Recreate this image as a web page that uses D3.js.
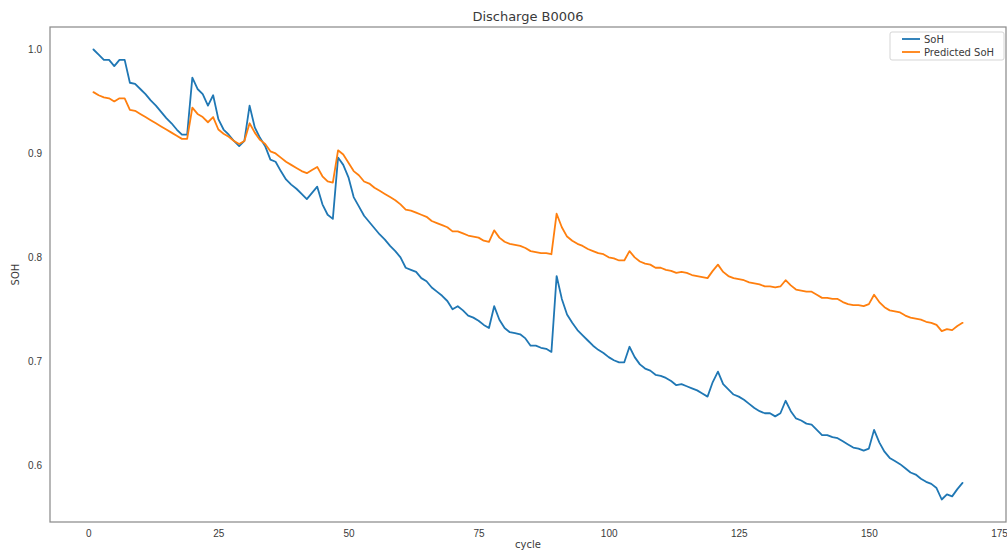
<!DOCTYPE html>
<html>
<head>
<meta charset="utf-8">
<script src="https://cdn.jsdelivr.net/npm/d3@7/dist/d3.min.js"></script>
<style>
  html, body { margin: 0; padding: 0; background: #fff; }
  svg { display: block; font-family: "DejaVu Sans", sans-serif; }
</style>
</head>
<body>
<svg id="chart" width="1007" height="550"></svg>
<script>
const title = "Discharge B0006";
const xLabel = "cycle";
const yLabel = "SOH";
const seriesNames = ["SoH", "Predicted SoH"];
const seriesColors = ["#1f77b4", "#ff7f0e"];
const xTicks = [0, 25, 50, 75, 100, 125, 150, 175];
const yTicks = [0.6, 0.7, 0.8, 0.9, 1.0];

const soh = [
  1.000, 0.995, 0.990, 0.990, 0.984, 0.990, 0.990, 0.968, 0.967, 0.962,
  0.957, 0.951, 0.946, 0.940, 0.934, 0.929, 0.923, 0.918, 0.918, 0.973,
  0.962, 0.957, 0.946, 0.956, 0.933, 0.923, 0.918, 0.912, 0.907, 0.912,
  0.946, 0.925, 0.915, 0.907, 0.894, 0.892, 0.883, 0.875, 0.870, 0.866,
  0.861, 0.856, 0.862, 0.868, 0.851, 0.841, 0.837, 0.896, 0.889, 0.877,
  0.858, 0.849, 0.840, 0.834, 0.828, 0.822, 0.817, 0.811, 0.806, 0.800,
  0.790, 0.788, 0.786, 0.780, 0.777, 0.771, 0.767, 0.763, 0.758, 0.750,
  0.753, 0.749, 0.744, 0.742, 0.739, 0.735, 0.732, 0.753, 0.740, 0.732,
  0.728, 0.727, 0.726, 0.722, 0.715, 0.715, 0.713, 0.712, 0.709, 0.782,
  0.760, 0.745, 0.737, 0.730, 0.725, 0.720, 0.715, 0.711, 0.708, 0.704,
  0.701, 0.699, 0.699, 0.714, 0.704, 0.697, 0.693, 0.691, 0.687, 0.686,
  0.684, 0.681, 0.677, 0.678, 0.676, 0.674, 0.672, 0.669, 0.666, 0.680,
  0.690, 0.678, 0.673, 0.668, 0.666, 0.663, 0.659, 0.655, 0.652, 0.650,
  0.650, 0.647, 0.650, 0.662, 0.652, 0.645, 0.643, 0.640, 0.639, 0.634,
  0.629, 0.629, 0.627, 0.626, 0.623, 0.620, 0.617, 0.616, 0.614, 0.616,
  0.634, 0.622, 0.613, 0.607, 0.604, 0.601, 0.597, 0.593, 0.591, 0.587,
  0.584, 0.582, 0.578, 0.567, 0.572, 0.570, 0.577, 0.583
];

const predictedSoh = [
  0.959, 0.956, 0.954, 0.953, 0.950, 0.953, 0.953, 0.942, 0.941, 0.938,
  0.935, 0.932, 0.929, 0.926, 0.923, 0.920, 0.917, 0.914, 0.914, 0.944,
  0.938, 0.935, 0.930, 0.935, 0.923, 0.919, 0.916, 0.912, 0.909, 0.912,
  0.929, 0.920, 0.913, 0.909, 0.902, 0.900, 0.896, 0.892, 0.889, 0.886,
  0.883, 0.881, 0.884, 0.887, 0.878, 0.873, 0.872, 0.903, 0.899, 0.891,
  0.883, 0.879, 0.873, 0.871, 0.867, 0.864, 0.861, 0.858, 0.855, 0.851,
  0.846, 0.845, 0.843, 0.841, 0.839, 0.835, 0.833, 0.831, 0.829, 0.825,
  0.825, 0.823, 0.821, 0.820, 0.819, 0.816, 0.815, 0.826, 0.819, 0.815,
  0.813, 0.812, 0.811, 0.809, 0.806, 0.805, 0.804, 0.804, 0.803, 0.842,
  0.829, 0.820, 0.816, 0.813, 0.811, 0.808, 0.806, 0.804, 0.803, 0.800,
  0.799, 0.797, 0.797, 0.806, 0.800, 0.796, 0.794, 0.793, 0.790, 0.790,
  0.788, 0.787, 0.785, 0.786, 0.785, 0.783, 0.782, 0.781, 0.780, 0.787,
  0.793, 0.786, 0.782, 0.780, 0.779, 0.778, 0.776, 0.775, 0.774, 0.772,
  0.772, 0.771, 0.772, 0.778, 0.773, 0.769, 0.768, 0.767, 0.767, 0.764,
  0.761, 0.761, 0.760, 0.760, 0.757, 0.755, 0.754, 0.754, 0.753, 0.755,
  0.764, 0.757, 0.752, 0.749, 0.748, 0.747, 0.744, 0.742, 0.741, 0.740,
  0.738, 0.737, 0.735, 0.729, 0.731, 0.730, 0.734, 0.737
];

const cycles = d3.range(1, soh.length + 1);

const svg = d3.select("#chart");
const W = 1007, H = 550;
const m = { left: 50, right: 1, top: 27, bottom: 28 };
const x0 = m.left, x1 = W - m.right, y0 = m.top, y1 = H - m.bottom;

// matplotlib-style 5% margins
const xmin = d3.min(cycles), xmax = d3.max(cycles);
const xpad = (xmax - xmin) * 0.05;
const allY = soh.concat(predictedSoh);
const ymin = d3.min(allY), ymax = d3.max(allY);
const ypad = (ymax - ymin) * 0.05;

const x = d3.scaleLinear().domain([xmin - xpad, xmax + xpad]).range([x0, x1]);
const y = d3.scaleLinear().domain([ymin - ypad, ymax + ypad]).range([y1, y0]);

const textColor = "#3a3a3a";

// axes (no tick marks)
const xAxis = d3.axisBottom(x).tickValues(xTicks).tickSize(0).tickPadding(8).tickFormat(d3.format("d"));
const yAxis = d3.axisLeft(y).tickValues(yTicks).tickSize(0).tickPadding(8).tickFormat(d3.format(".1f"));

const gx = svg.append("g").attr("transform", `translate(0,${y1})`).call(xAxis);
const gy = svg.append("g").attr("transform", `translate(${x0},0)`).call(yAxis);
[gx, gy].forEach(g => {
  g.select(".domain").remove();
  g.selectAll("text").attr("fill", textColor).style("font-size", "10px");
});

// lines
const line = d3.line().x((d, i) => x(cycles[i])).y(d => y(d));
svg.append("clipPath").attr("id", "clip")
  .append("rect").attr("x", x0).attr("y", y0).attr("width", x1 - x0).attr("height", y1 - y0);

[soh, predictedSoh].forEach((s, k) => {
  svg.append("path")
    .datum(s)
    .attr("clip-path", "url(#clip)")
    .attr("fill", "none")
    .attr("stroke", seriesColors[k])
    .attr("stroke-width", 1.8)
    .attr("stroke-linejoin", "round")
    .attr("stroke-linecap", "round")
    .attr("d", line);
});

// frame
svg.append("rect")
  .attr("x", x0).attr("y", y0).attr("width", x1 - x0).attr("height", y1 - y0)
  .attr("fill", "none").attr("stroke", "#8c8c8c").attr("stroke-width", 1.25);

// title & labels
svg.append("text").attr("x", (x0 + x1) / 2).attr("y", 21)
  .attr("text-anchor", "middle").attr("fill", textColor).style("font-size", "13px").text(title);
svg.append("text").attr("x", (x0 + x1) / 2).attr("y", 548)
  .attr("text-anchor", "middle").attr("fill", textColor).style("font-size", "10px").text(xLabel);
svg.append("text").attr("transform", `translate(19,${(y0 + y1) / 2}) rotate(-90)`)
  .attr("text-anchor", "middle").attr("fill", textColor).style("font-size", "10px").text(yLabel);

// legend
const lg = svg.append("g");
lg.append("rect").attr("x", 890).attr("y", 32).attr("width", 114).attr("height", 28)
  .attr("rx", 2).attr("fill", "#fff").attr("fill-opacity", 0.8)
  .attr("stroke", "#d5d5d5").attr("stroke-width", 1);
seriesNames.forEach((name, k) => {
  const yy = 39 + k * 13;
  lg.append("line").attr("x1", 902).attr("x2", 920).attr("y1", yy).attr("y2", yy)
    .attr("stroke", seriesColors[k]).attr("stroke-width", 1.8);
  lg.append("text").attr("x", 924).attr("y", yy + 3.5)
    .attr("fill", textColor).style("font-size", "10px").text(name);
});
</script>
</body>
</html>
